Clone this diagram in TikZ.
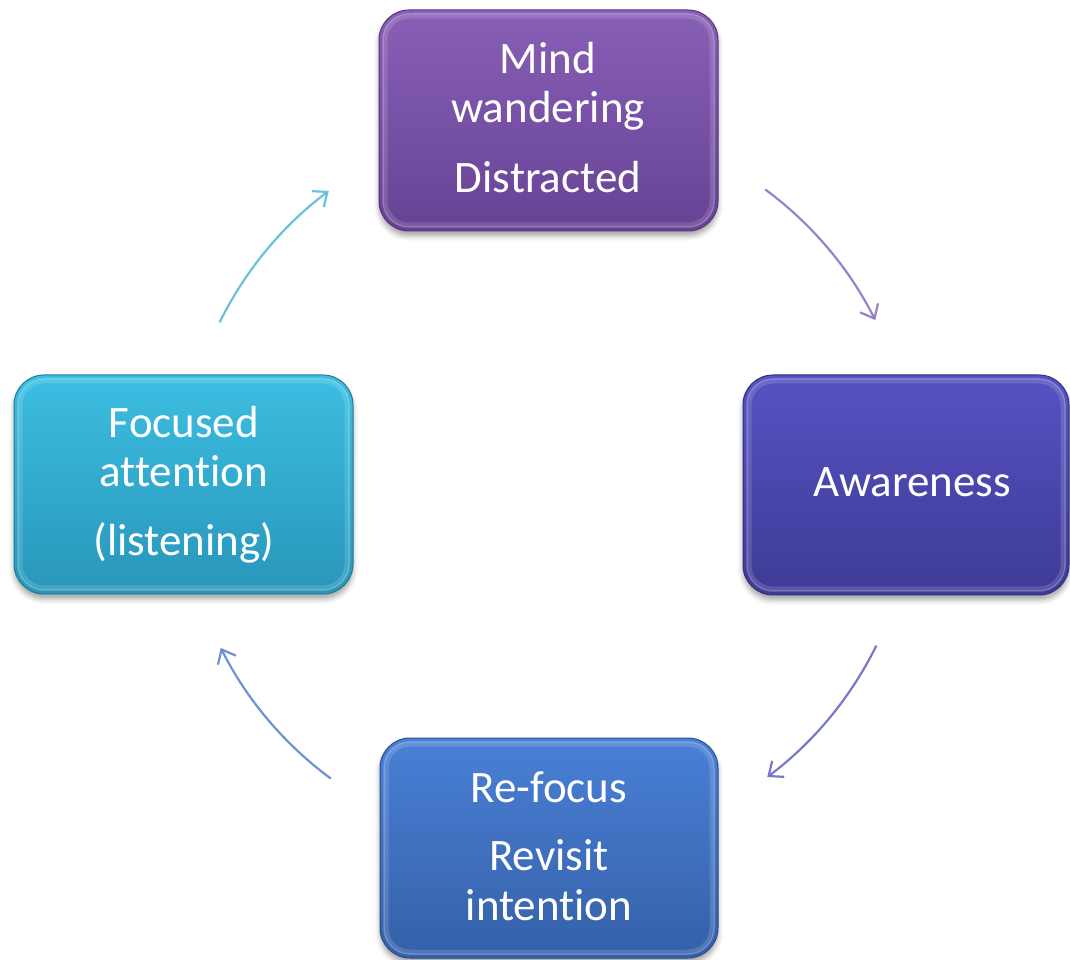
\documentclass[tikz,border=0pt]{standalone}
\usepackage{fontspec}
\setmainfont{Carlito}[Ligatures={NoCommon}]
\usetikzlibrary{calc,arrows.meta,shadows.blur}

% box palettes
\definecolor{mindTop}{RGB}{136,96,182}
\definecolor{mindBot}{RGB}{102,66,148}
\definecolor{mindEdge}{RGB}{84,54,122}
\definecolor{awTop}{RGB}{86,82,194}
\definecolor{awBot}{RGB}{62,59,150}
\definecolor{awEdge}{RGB}{50,47,120}
\definecolor{rfTop}{RGB}{74,128,214}
\definecolor{rfBot}{RGB}{52,96,168}
\definecolor{rfEdge}{RGB}{42,78,138}
\definecolor{fcTop}{RGB}{60,190,226}
\definecolor{fcBot}{RGB}{40,150,186}
\definecolor{fcEdge}{RGB}{32,122,152}
% connector colours
\definecolor{arMind}{RGB}{140,116,198}
\definecolor{arAw}{RGB}{106,106,196}
\definecolor{arRf}{RGB}{96,134,208}
\definecolor{arFc}{RGB}{90,186,214}

\tikzset{
  cardbox/.style={rounded corners=30pt, inner sep=0pt, outer sep=0pt,
    line width=1pt,
    blur shadow={shadow xshift=0pt, shadow yshift=-5pt, shadow blur radius=5pt, shadow opacity=35}},
  bevel/.style={draw=white, line width=5pt, opacity=0.14, rounded corners=24pt},
  bevelthin/.style={draw=white, line width=1.5pt, opacity=0.18, rounded corners=26pt},
  lbl/.style={text=white, anchor=base, inner sep=0pt,
    font=\fontsize{45}{45}\selectfont},
  cyc/.style={line width=2.2pt, opacity=0.9,
    -{Straight Barb[length=12pt, width=20pt, line width=2.2pt]}}
}

\begin{document}
\begin{tikzpicture}[x=1pt, y=1pt]
  \useasboundingbox (0,0) rectangle (1070,959);

  % the four stages
  \node[cardbox, draw=mindEdge, top color=mindTop, bottom color=mindBot,
        minimum width=339pt, minimum height=221pt] (mind) at (548.5,838.5) {};
  \node[cardbox, draw=awEdge, top color=awTop, bottom color=awBot,
        minimum width=326pt, minimum height=220pt] (aware) at (906,474) {};
  \node[cardbox, draw=rfEdge, top color=rfTop, bottom color=rfBot,
        minimum width=338pt, minimum height=220pt] (refocus) at (549,111) {};
  \node[cardbox, draw=fcEdge, top color=fcTop, bottom color=fcBot,
        minimum width=339pt, minimum height=219pt] (focus) at (183.5,474.5) {};

  % inner bevel highlight
  \foreach \b in {mind,aware,refocus,focus}{
    \draw[bevel] ($(\b.south west)+(6,6)$) rectangle ($(\b.north east)-(6,6)$);
    \draw[bevelthin] ($(\b.south west)+(4,4)$) rectangle ($(\b.north east)-(4,4)$);
  }

  % labels
  \node[lbl] (mindA) at (548,885) {Mind};
  \node[lbl] (mindB) at (548,836) {wandering};
  \node[lbl] (mindC) at (548,766) {Distracted};

  \node[lbl] (awA) at (912,462) {Awareness};

  \node[lbl] (rfA) at (549,157) {Re-focus};
  \node[lbl] (rfB) at (549,89) {Revisit};
  \node[lbl] (rfC) at (549,39) {intention};

  \node[lbl] (fcA) at (184,521) {Focused};
  \node[lbl] (fcB) at (184,472) {attention};
  \node[lbl] (fcC) at (184,403) {(listening)};

  % cycle arrows on a common circle
  \coordinate (ctr) at (548,475);
  \coordinate (s1) at ($(ctr)+(53.6:366)$);
  \coordinate (s2) at ($(ctr)+(-26.2:366)$);
  \coordinate (s3) at ($(ctr)+(-126.4:366)$);
  \coordinate (s4) at ($(ctr)+(153.8:366)$);

  \draw[cyc, draw=arMind] (s1) arc[start angle=53.6, end angle=26.6, radius=366];
  \draw[cyc, draw=arAw] (s2) arc[start angle=-26.2, end angle=-53.2, radius=366];
  \draw[cyc, draw=arRf] (s3) arc[start angle=-126.4, end angle=-153.4, radius=366];
  \draw[cyc, draw=arFc] (s4) arc[start angle=153.8, end angle=126.8, radius=366];
\end{tikzpicture}
\end{document}
